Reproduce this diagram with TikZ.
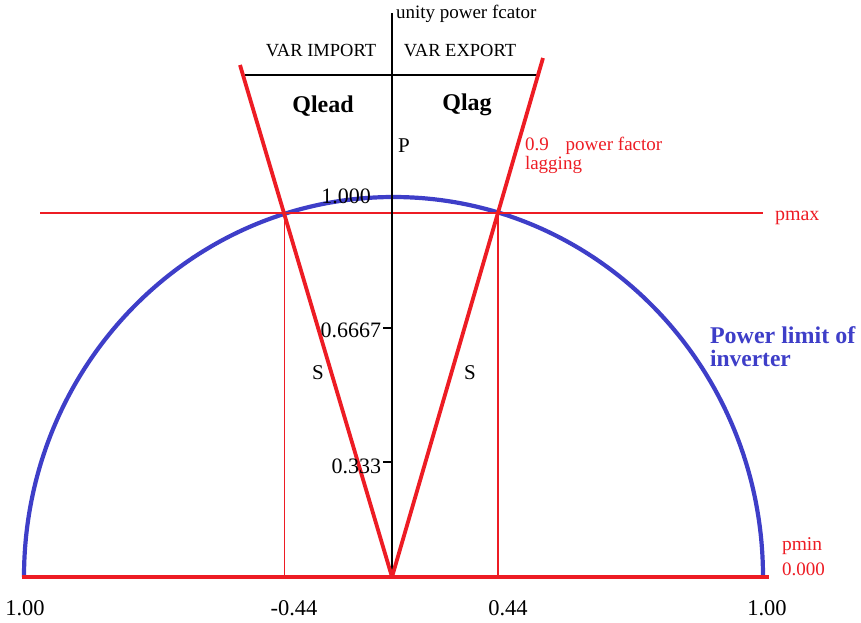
\documentclass[tikz,border=0pt]{standalone}
\usepackage{fontspec}
\setmainfont{Liberation Serif}
\definecolor{pred}{RGB}{237,28,36}
\definecolor{pblue}{RGB}{62,62,200}
\newcommand{\fs}[1]{\fontsize{#1}{#1}\selectfont}
\begin{document}
\begin{tikzpicture}[x=1pt,y=-1pt,
  lbl/.style={inner sep=0pt, outer sep=0pt},
  thickred/.style={pred, line width=4.5pt},
  vred/.style={pred, line width=3.8pt},
  thinred/.style={pred, line width=1.2pt},
  axisline/.style={black, line width=1.4pt},
  bluearc/.style={pblue, line width=4.2pt},
  redtxt/.style={lbl, text=pred}]
\useasboundingbox (0,0) rectangle (861,622);
% coordinates
\coordinate (O) at (392,577);
\coordinate (AxTop) at (392,13);
\coordinate (HL) at (245,75);
\coordinate (HR) at (540,75);
\coordinate (VL) at (240,65);
\coordinate (VR) at (543,58);
\coordinate (BL) at (22,577);
\coordinate (BR) at (769,577);
\coordinate (PL) at (40,213);
\coordinate (PR) at (763,213);
\coordinate (IL) at (284.5,213);
\coordinate (IR) at (498,213);
\coordinate (IL0) at (284.5,577);
\coordinate (IR0) at (498,577);
\coordinate (T1) at (383,328);
\coordinate (T1a) at (392,328);
\coordinate (T2) at (383,462);
\coordinate (T2a) at (392,462);
\coordinate (ArcL) at (24,577);
% arc
\draw[bluearc] (ArcL) arc[start angle=180, end angle=360, x radius=369.5, y radius=380];
% thin red lines
\draw[thinred] (PL) -- (PR);
\draw[thinred] (IL) -- (IL0);
\draw[thinred] (IR) -- (IR0);
% axis
\draw[axisline] (AxTop) -- (O);
\draw[axisline] (HL) -- (HR);
\draw[axisline] (T1) -- (T1a);
\draw[axisline] (T2) -- (T2a);
% V lines
\draw[vred] (O) -- (VL);
\draw[vred] (O) -- (VR);
% baseline
\draw[thickred] (BL) -- (BR);
% labels
\node[lbl, anchor=base west] (unity) at (396,18) {\fs{19}unity power fcator};
\node[lbl, anchor=base] (imp) at (321,56) {\fs{18.5}VAR IMPORT};
\node[lbl, anchor=base] (exp) at (460,56) {\fs{18.5}VAR EXPORT};
\node[lbl, anchor=base] (qlead) at (323,112) {\fs{24}\bfseries Qlead};
\node[lbl, anchor=base] (qlag) at (467,110) {\fs{24}\bfseries Qlag};
\node[lbl, anchor=base west] (P) at (398,152) {\fs{21}P};
\node[lbl, anchor=base] (one) at (346,203) {\fs{22}1.000};
\node[lbl, anchor=east] (t1) at (381,330) {\fs{22}0.6667};
\node[lbl, anchor=east] (t2) at (381,466) {\fs{22}0.333};
\node[lbl] (SL) at (318,373) {\fs{21}S};
\node[lbl] (SR) at (470,373) {\fs{21}S};
\node[redtxt, anchor=base west] (pf1) at (525,150) {\fs{19}0.9\hspace{17pt}power factor};
\node[redtxt, anchor=base west] (pf2) at (525,169) {\fs{19}lagging};
\node[redtxt, anchor=base west] (pmax) at (775,220) {\fs{20}pmax};
\node[lbl, anchor=base west, text=pblue] (lim1) at (710,343) {\fs{24}\bfseries Power limit of};
\node[lbl, anchor=base west, text=pblue] (lim2) at (710,366) {\fs{23.5}\bfseries inverter};
\node[redtxt, anchor=base west] (pmin) at (782,550) {\fs{19.5}pmin};
\node[redtxt, anchor=base west] (pzero) at (782,575) {\fs{19}0.000};
\node[lbl, anchor=base] (b1) at (25,615) {\fs{22.5}1.00};
\node[lbl, anchor=base] (b2) at (294,615) {\fs{22.5}-0.44};
\node[lbl, anchor=base] (b3) at (508,615) {\fs{22.5}0.44};
\node[lbl, anchor=base] (b4) at (767,615) {\fs{22.5}1.00};
\end{tikzpicture}
\end{document}
